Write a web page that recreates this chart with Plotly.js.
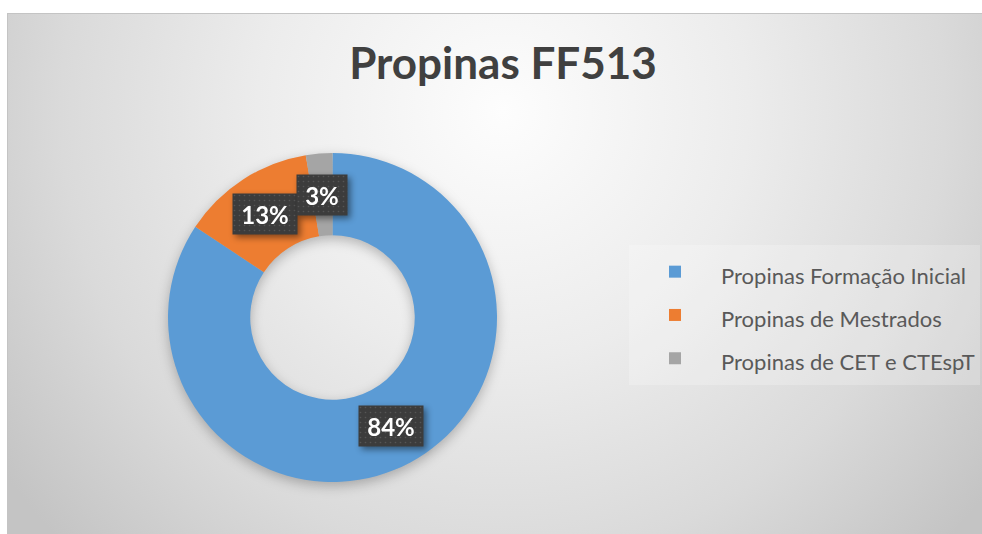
<!DOCTYPE html>
<html><head><meta charset="utf-8">
<script src="https://cdn.plot.ly/plotly-3.0.1.min.js"></script>
<style>
html,body{margin:0;padding:0;background:#fff;overflow:hidden;width:982px;height:534px;}
#chart{position:absolute;left:7px;top:13px;width:990px;height:540px;border:1px solid #c4c4c4;
background: radial-gradient(ellipse 62% 115% at 50% 18%, #fdfdfd 0%, #ececec 40%, #dadada 72%, #c4c4c4 100%);}
</style></head><body><div id="chart"></div>
<script>
const chartTitle = 'Propinas FF513';
const categories = ['Propinas Formação Inicial', 'Propinas de Mestrados', 'Propinas de CET e CTEspT'];
const values = [84.3, 13.1, 2.6];
const colors = ['#5b9bd5', '#ed7d31', '#a5a5a5'];

const W = 990, H = 540;
const legendLabels = categories.map(c => '<span style="font-size:22px">' + c + '</span>');

const trace = {
  type: 'pie',
  labels: legendLabels,
  values: values,
  marker: {colors: colors, line: {width: 0}},
  hole: 0.5,
  sort: false,
  direction: 'clockwise',
  rotation: 0,
  textinfo: 'none',
  hoverinfo: 'skip',
  domain: {x: [160 / W, 489 / W], y: [72 / H, 401 / H]}
};

const layout = {
  width: W, height: H,
  margin: {l: 0, r: 0, t: 0, b: 0},
  paper_bgcolor: 'rgba(0,0,0,0)',
  plot_bgcolor: 'rgba(0,0,0,0)',
  title: {
    text: chartTitle,
    x: 0.5, xref: 'container', xanchor: 'center',
    y: 0.909, yref: 'container', yanchor: 'middle',
    font: {family: 'Lato', size: 44, color: '#404040', weight: 'bold'}
  },
  showlegend: true,
  legend: {
    x: 0.6273, xanchor: 'left', y: 0.5722, yanchor: 'top',
    bgcolor: 'rgba(255,255,255,0.22)',
    font: {family: 'Lato', size: 31, color: '#595959'},
    itemwidth: 82, traceorder: 'normal'
  }
};

const gd = document.getElementById('chart');
Plotly.newPlot(gd, [trace], layout, {displayModeBar: false, staticPlot: true}).then(() => {
  const fl = gd._fullLayout, gs = fl._size;
  const cd = gd.calcdata[0];
  const cd0 = cd[0];
  const total = values.reduce((a, b) => a + b, 0);
  const ann = cd.map((pt, i) => {
    const fx = cd0.cx + 0.75 * pt.pxmid[0];
    const fy = cd0.cy + 0.75 * pt.pxmid[1];
    const txt = Math.round(values[i] / total * 100) + '%';
    return {
      xref: 'paper', yref: 'paper',
      x: (fx - gs.l) / gs.w, y: 1 - (fy - gs.t) / gs.h,
      xanchor: 'center', yanchor: 'middle',
      text: txt, showarrow: false,
      font: {family: 'Lato', size: 24, color: '#ffffff', weight: 'bold'},
      bgcolor: '#404040', borderpad: 7, height: 26, width: 14 * txt.length + 8
    };
  });
  return Plotly.relayout(gd, {annotations: ann});
}).then(() => {
  const svg = gd.querySelector('svg.main-svg');
  const ns = 'http://www.w3.org/2000/svg';
  let defs = svg.querySelector('defs');
  if (!defs) { defs = document.createElementNS(ns, 'defs'); svg.insertBefore(defs, svg.firstChild); }
  const pat = document.createElementNS(ns, 'pattern');
  pat.setAttribute('id', 'dotpat'); pat.setAttribute('width', '5'); pat.setAttribute('height', '5');
  pat.setAttribute('patternUnits', 'userSpaceOnUse');
  const r = document.createElementNS(ns, 'rect');
  r.setAttribute('width', '5'); r.setAttribute('height', '5'); r.setAttribute('fill', '#3c3c3c');
  const c = document.createElementNS(ns, 'circle');
  c.setAttribute('cx', '2.5'); c.setAttribute('cy', '2.5'); c.setAttribute('r', '0.8'); c.setAttribute('fill', '#555555');
  pat.appendChild(r); pat.appendChild(c); defs.appendChild(pat);
  gd.querySelectorAll('.annotation-text-g rect.bg').forEach(el => { el.style.fill = 'url(#dotpat)'; });
  gd.querySelectorAll('.annotation').forEach(el => { el.style.filter = 'drop-shadow(3px 3px 3px rgba(0,0,0,0.45))'; });
  gd.querySelectorAll('.pielayer').forEach(el => { el.style.filter = 'drop-shadow(0px 4px 6px rgba(0,0,0,0.25))'; });
});
</script></body></html>
